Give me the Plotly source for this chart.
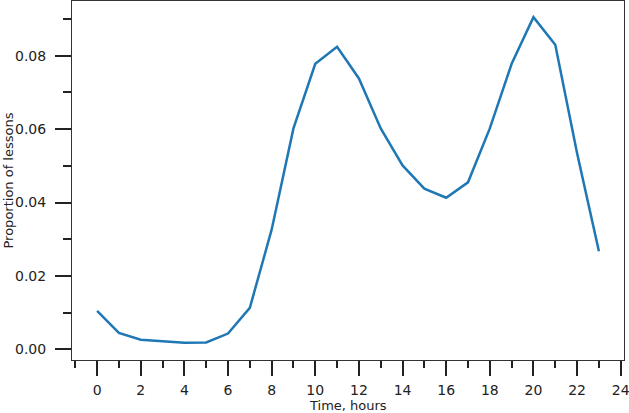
import plotly.graph_objects as go

hours = list(range(24))
proportion = [0.0105, 0.0045, 0.0026, 0.0021, 0.0018, 0.0019, 0.0043, 0.0113,
              0.0326, 0.0602, 0.0778, 0.0824, 0.0738, 0.0602, 0.0501, 0.0438,
              0.0413, 0.0455, 0.0602, 0.0778, 0.0905, 0.0830, 0.0534, 0.0267]

fig = go.Figure()
fig.add_trace(go.Scatter(x=hours, y=proportion, mode="lines",
                         line=dict(color="#1f77b4", width=2.5)))

axis_style = dict(
    showline=True, linecolor="#333333", linewidth=1, mirror=True,
    ticks="outside", tickwidth=2, tickcolor="#222222",
    showgrid=False, zeroline=False, automargin=False,
    ticklabeloverflow="allow",
    tickfont=dict(family="DejaVu Sans", size=14, color="#222222"),
)

fig.update_layout(
    width=629, height=413,
    margin=dict(l=72, r=5, t=1, b=53),
    paper_bgcolor="white", plot_bgcolor="white",
    showlegend=False,
    font=dict(family="DejaVu Sans", size=13, color="#222222"),
    xaxis=dict(range=[-1.15, 24.15], tick0=0, dtick=2, ticklen=15,
               ticklabelstandoff=2,
               minor=dict(ticks="outside", dtick=1, tick0=0, ticklen=7, tickwidth=2, tickcolor="#222222"),
               **axis_style),
    yaxis=dict(range=[-0.0029, 0.0949], tick0=0, dtick=0.02, ticklen=16,
               tickformat=".2f", ticklabelstandoff=6,
               minor=dict(ticks="outside", dtick=0.01, tick0=0, ticklen=8, tickwidth=2, tickcolor="#222222"),
               **axis_style),
)

fig.add_annotation(text="Time, hours", xref="paper", yref="paper", x=0.5, y=0,
                   xanchor="center", yanchor="middle", yshift=-45, showarrow=False,
                   font=dict(family="DejaVu Sans", size=13, color="#222222"))
fig.add_annotation(text="Proportion of lessons", xref="paper", yref="paper", x=0, y=0.5,
                   xanchor="center", yanchor="middle", xshift=-64, textangle=-90,
                   showarrow=False,
                   font=dict(family="DejaVu Sans", size=13, color="#222222"))

# the page's default body margin would shift the figure by 8px
fig.write_html("out.html", config={"displayModeBar": False},
               post_script="document.body.style.margin='0';")
